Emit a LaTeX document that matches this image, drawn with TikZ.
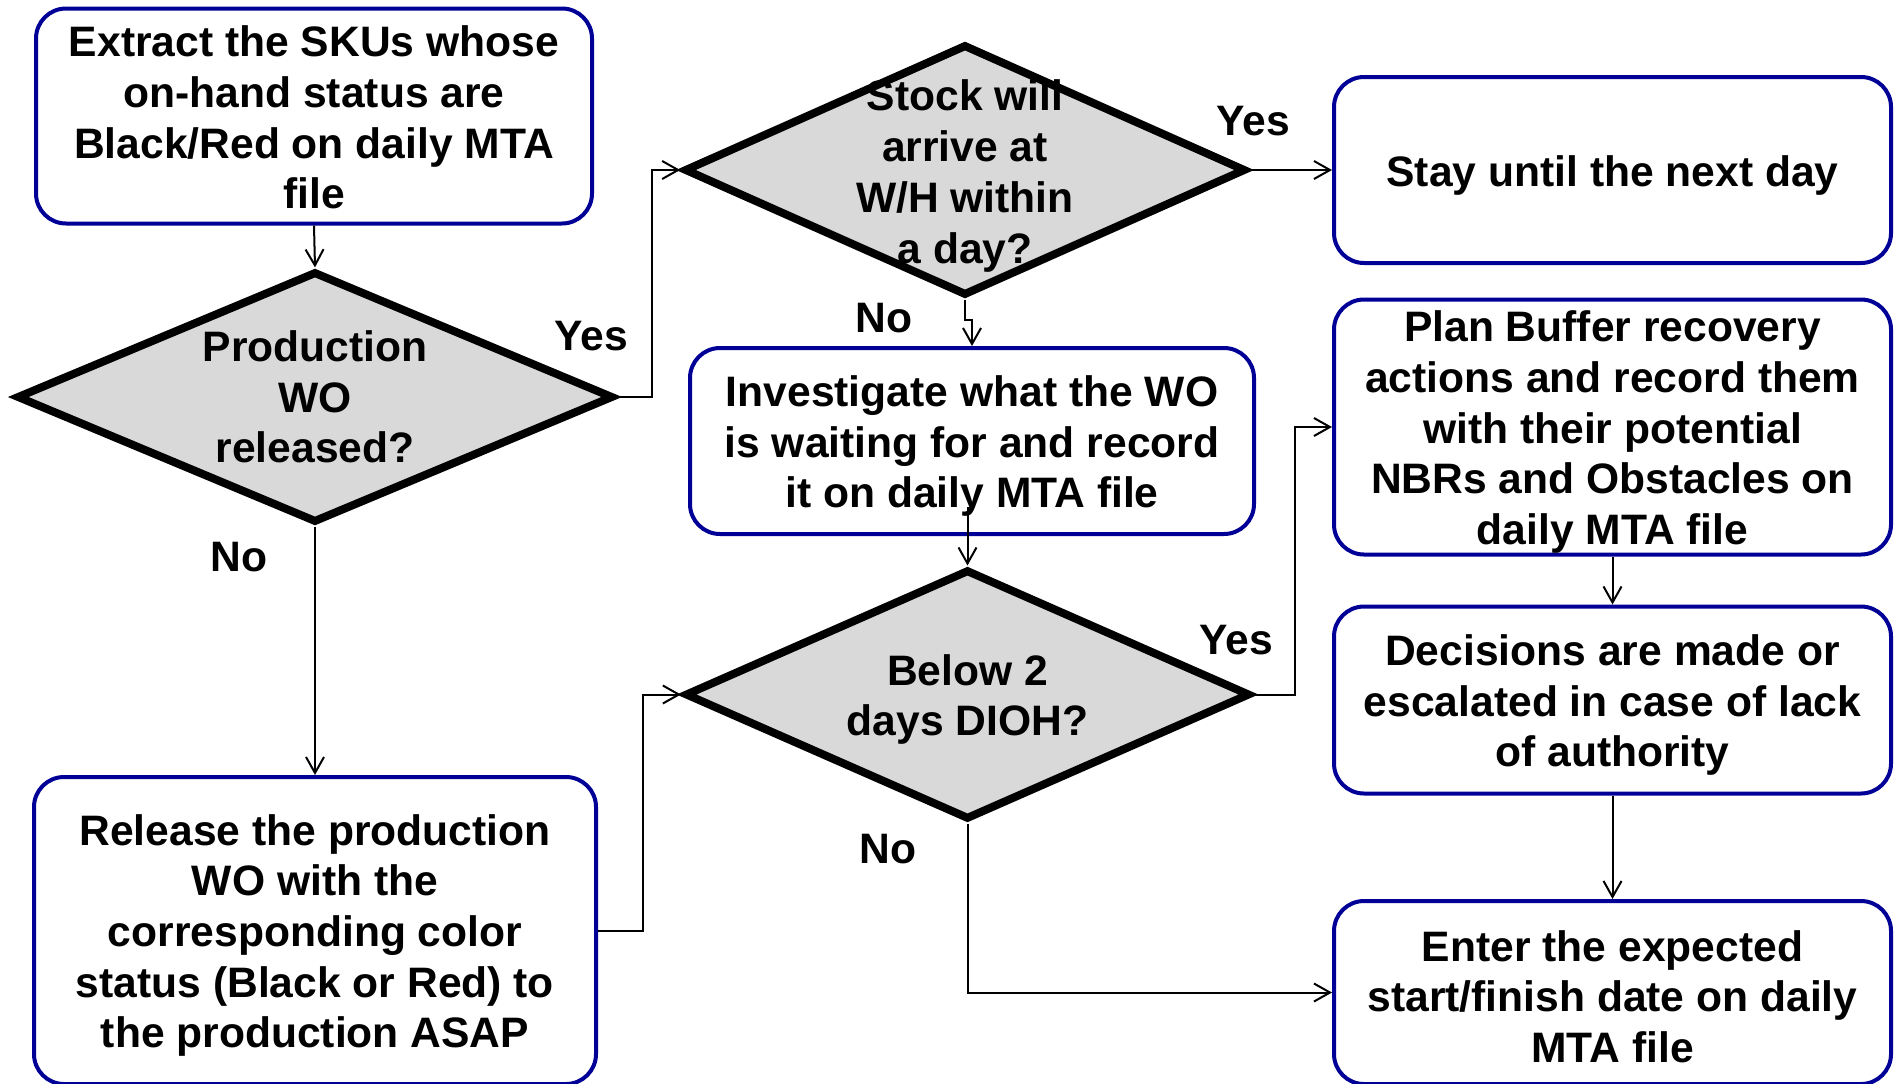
\documentclass[tikz,border=0pt]{standalone}
\usepackage{fontspec}
\setmainfont{Liberation Sans}
\usetikzlibrary{shapes.geometric,arrows.meta,calc}
\definecolor{navyline}{RGB}{0,0,150}
\definecolor{diagray}{RGB}{217,217,217}
\begin{document}
\begin{tikzpicture}[x=0.5pt,y=-0.5pt,
  txt/.style={font=\bfseries\fontsize{21.3pt}{25.35pt}\selectfont, align=center, text=black},
  box/.style={draw=navyline, line width=2pt, rounded corners=15pt, fill=white, inner sep=0pt},
  choice/.style={diamond, draw=black, line width=4pt, fill=diagray, inner sep=0pt},
  arr/.style={line width=1pt, -{Straight Barb[length=8pt,width=9pt]}},
  lab/.style={font=\bfseries\fontsize{21.3pt}{25.35pt}\selectfont, inner sep=0pt}
]
\useasboundingbox (0,0) rectangle (1894,1083);

% process boxes (frames), each with its text set just below centre
\node[box, minimum width=278pt, minimum height=107.5pt] (ext) at (314,116) {};
\node[txt] (extt) at ($(ext.center)+(0,1.5)$)
  {Extract the SKUs whose\\on-hand status are\\Black/Red on daily MTA\\file};
\node[box, minimum width=278.5pt, minimum height=93pt] (stay) at (1612.5,170) {};
\node[txt] (stayt) at ($(stay.center)+(0,5)$) {Stay until the next day};
\node[box, minimum width=282pt, minimum height=93pt] (inv) at (972,441) {};
\node[txt] (invt) at ($(inv.center)+(0,5)$)
  {Investigate what the WO\\is waiting for and record\\it on daily MTA file};
\node[box, minimum width=278.5pt, minimum height=127.5pt] (plan) at (1612.5,427) {};
\node[txt] (plant) at ($(plan.center)+(0,5)$)
  {Plan Buffer recovery\\actions and record them\\with their potential\\NBRs and Obstacles on\\daily MTA file};
\node[box, minimum width=278.5pt, minimum height=93.5pt] (dec) at (1612.5,700) {};
\node[txt] (dect) at ($(dec.center)+(0,5)$)
  {Decisions are made or\\escalated in case of lack\\of authority};
\node[box, minimum width=281pt, minimum height=153.5pt] (rel) at (315,930.5) {};
\node[txt] (relt) at ($(rel.center)+(0,5)$)
  {Release the production\\WO with the\\corresponding color\\status (Black or Red) to\\the production ASAP};
\node[box, minimum width=278.5pt, minimum height=91.5pt] (ent) at (1612.5,992.5) {};
\node[txt] (entt) at ($(ent.center)+(0,4)$)
  {Enter the expected\\start/finish date on daily\\MTA file};

% decisions
\node[choice, minimum width=298.4pt, minimum height=125.6pt] (d1) at (315,397) {};
\node[txt] (d1t) at ($(d1.center)+(0,0)$) {Production\\WO\\released?};
\node[choice, minimum width=280.8pt, minimum height=125.6pt] (d2) at (965,170) {};
\node[txt] (d2t) at ($(d2.center)+(0,6)$) {Stock will\\arrive at\\W/H within\\a day?};
\node[choice, minimum width=282.6pt, minimum height=125pt] (d3) at (967.5,694.5) {};
\node[txt] (d3t) at ($(d3.center)+(0,5)$) {Below 2\\days DIOH?};

% branch labels
\node[lab] (y1) at (591,336) {Yes};
\node[lab] (n1) at (239,557) {No};
\node[lab] (y2) at (1253,121) {Yes};
\node[lab] (n2) at (884,318) {No};
\node[lab] (y3) at (1236,640) {Yes};
\node[lab] (n3) at (888,849) {No};

% connectors
\draw[arr] (ext.south) -- (d1.north);
\draw[arr] (d1.east) -- ++(35,0) |- (d2.west);
\draw[arr] (d1.south) -- (rel.north);
\draw[arr] (d2.east) -- (stay.west);
\draw[arr] (d2.south) -- ++(0,20) -| (inv.north);
\draw[arr] ($(inv.south -| d3.north)+(0,-29)$) -- (d3.north);
\draw[arr] (rel.east) -- ++(45,0) |- (d3.west);
\draw[arr] (d3.east) -- ++(41,0) |- (plan.west);
\draw[arr] (d3.south) |- (ent.west);
\draw[arr] (plan.south) -- (dec.north);
\draw[arr] (dec.south) -- (ent.north);
\end{tikzpicture}
\end{document}
